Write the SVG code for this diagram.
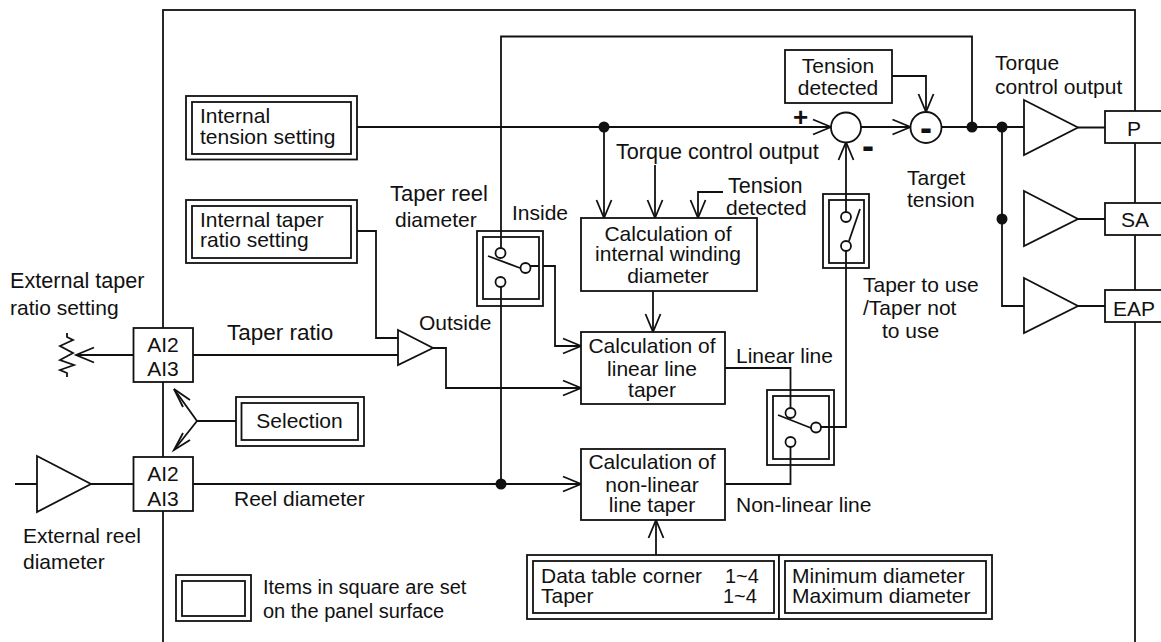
<svg xmlns="http://www.w3.org/2000/svg" width="1161" height="642" viewBox="0 0 1161 642">
<style>
.l{fill:none;stroke:#111;stroke-width:1.8}
.b{fill:#fff;stroke:#111;stroke-width:1.8}
.d{fill:#111;stroke:none}
.a{marker-end:url(#arr)}
text{font-family:"Liberation Sans",Arial,sans-serif;font-size:21px;fill:#111}
.c{text-anchor:middle}
.s{font-size:20px}
.w{font-size:21.600px}
.m{font-weight:bold;font-size:36px}
.p{font-weight:bold;font-size:26px}
</style>
<defs>
<marker id="arr" markerUnits="userSpaceOnUse" markerWidth="24" markerHeight="20" viewBox="-20 -10 24 20" refX="0" refY="0" orient="auto" overflow="visible">
<path d="M-18,-7.5 L0,0 L-18,7.5" fill="none" stroke="#111" stroke-width="1.8"/>
</marker>
</defs>
<rect width="1161" height="642" fill="#fff"/>
<rect id="frame" class="l" x="163" y="10" width="972" height="660"/>
<g id="connectors">
<path class="l" d="M501,248V36.5H972V127"/>
<path class="l" d="M501,287V484"/>
<path class="l" d="M357,127H604"/>
<path class="l a" d="M604,127H831"/>
<path class="l a" d="M604,127V218"/>
<path class="l a" d="M655,165V218"/>
<path class="l a" d="M723,192H698V218"/>
<path class="l a" d="M861,127H910.500"/>
<path class="l" d="M941.500,127H1024"/>
<path class="l a" d="M892,76H926V112"/>
<path class="l a" d="M846,212V142"/>
<path class="l" d="M846,251V427H821"/>
<path class="l" d="M725,368H790.500V408"/>
<path class="l" d="M725,484H790.500V447"/>
<path class="l a" d="M530,266H555V346H581"/>
<path class="l a" d="M653,291V332"/>
<path class="l" d="M357,231H376V338H398"/>
<path class="l" d="M193,355H398"/>
<path class="l a" d="M433,348H446V388H581"/>
<path class="l a" d="M193,484H581"/>
<path class="l a" d="M656,555V520"/>
<path class="l a" d="M133,355H76"/>
<path class="l" d="M15,484H37M91,484H133"/>
<path class="l" d="M236,421H197"/>
<path class="l" d="M174,389L197,421L174,450"/>
<path class="l" d="M190,400L174,389L183,407M190,440L174,450L183,433"/>
<path class="l" d="M1002,127V306H1024"/>
<path class="l" d="M1078,127.500H1105M1078,219H1105M1078,306H1105"/>
<circle class="d" cx="501" cy="484" r="5.500"/>
<circle class="d" cx="604" cy="127" r="5.500"/>
<circle class="d" cx="972" cy="127" r="5.500"/>
<circle class="d" cx="1002" cy="127" r="5.500"/>
<circle class="d" cx="1002" cy="219" r="5.500"/>
</g>
<g id="internal-tension"><rect class="b" x="186" y="96" width="171" height="63.500"/><rect class="b" x="192" y="102" width="159" height="52"/><text x="200" y="123">Internal</text><text x="200" y="144">tension setting</text></g>
<g id="internal-taper"><rect class="b" x="186" y="200" width="171" height="63"/><rect class="b" x="192" y="206" width="159" height="52"/><text x="200" y="227">Internal taper</text><text x="200" y="247">ratio setting</text></g>
<g id="ai-top"><rect class="b" x="133.500" y="328" width="59.500" height="54"/><text class="c" x="163" y="352">AI2</text><text class="c" x="163" y="376">AI3</text></g>
<g id="ai-bottom"><rect class="b" x="133.500" y="457" width="59.500" height="54"/><text class="c" x="163" y="481">AI2</text><text class="c" x="163" y="506">AI3</text></g>
<g id="pot"><path class="l" d="M67,333V337L73,340L60,346L73,353L60,360L74,365L60,370L67,373V377"/></g>
<g id="amp-reel"><path class="b" d="M37,456L91,484L37,512Z"/></g>
<g id="selection"><rect class="b" x="236" y="397" width="128" height="49"/><rect class="b" x="241.500" y="403" width="116.500" height="37"/><text class="c" x="299.500" y="428">Selection</text></g>
<g id="amp-taper"><path class="b" d="M398,330L433,348L398,365Z"/></g>
<g id="switch-reel"><rect class="b" x="477" y="231" width="66" height="75"/><rect class="b" x="483" y="237" width="56" height="62"/><path class="l" d="M501,231V248M501,287V306M539,266H530M488,256L520,268"/><circle class="b" cx="500.500" cy="253" r="5"/><circle class="b" cx="525.500" cy="268" r="5"/><circle class="b" cx="500.500" cy="282" r="5"/></g>
<g id="calc-internal"><rect class="b" x="581" y="218" width="176" height="73"/><text class="c" x="668" y="241">Calculation of</text><text class="c" x="668" y="261">internal winding</text><text class="c" x="668" y="283">diameter</text></g>
<g id="calc-linear"><rect class="b" x="581" y="332" width="144" height="72"/><text class="c" x="652" y="353">Calculation of</text><text class="c" x="652" y="376">linear line</text><text class="c" x="652" y="397">taper</text></g>
<g id="calc-nonlinear"><rect class="b" x="581" y="449" width="144" height="71"/><text class="c" x="652" y="469">Calculation of</text><text class="c" x="652" y="492">non-linear</text><text class="c" x="652" y="512">line taper</text></g>
<g id="switch-line"><rect class="b" x="767" y="390" width="67" height="75"/><rect class="b" x="773" y="396" width="56" height="63"/><path class="l" d="M790.500,390V408M790.500,447V465M821,427H834M778,415L811,428"/><circle class="b" cx="790.500" cy="413" r="5"/><circle class="b" cx="816" cy="427.500" r="5"/><circle class="b" cx="790.500" cy="442" r="5"/></g>
<g id="switch-taper"><rect class="b" x="823" y="194" width="46" height="74"/><rect class="b" x="829" y="200" width="35" height="63"/><path class="l" d="M846,194V212M846,251V268M860,209L849,241"/><circle class="b" cx="846" cy="217" r="5"/><circle class="b" cx="846" cy="246" r="5"/></g>
<g id="tension-detected"><rect class="b" x="785" y="50" width="107" height="53"/><text class="c" x="838" y="73">Tension</text><text class="c" x="838" y="95">detected</text></g>
<g id="sum"><circle class="b" cx="846" cy="127.500" r="15"/></g>
<g id="diff"><circle class="b" cx="926" cy="127.500" r="15.500"/><text class="m c" x="926" y="140">-</text></g>
<g id="amp-p"><path class="b" d="M1024,100L1078,127.500L1024,155Z"/></g>
<g id="amp-sa"><path class="b" d="M1024,191L1078,219L1024,246Z"/></g>
<g id="amp-eap"><path class="b" d="M1024,278L1078,306L1024,333Z"/></g>
<g id="out-p"><rect class="b" x="1105" y="111" width="70" height="32"/><text x="1127" y="136">P</text></g>
<g id="out-sa"><rect class="b" x="1105" y="203" width="70" height="32"/><text x="1121" y="227">SA</text></g>
<g id="out-eap"><rect class="b" x="1105" y="290" width="70" height="32"/><text x="1113" y="316">EAP</text></g>
<g id="data-table"><rect class="b" x="527" y="555" width="252" height="64"/><rect class="b" x="533" y="561" width="241" height="52"/><text x="541" y="583">Data table corner</text><text class="s" x="725" y="583">1~4</text><text x="541" y="603">Taper</text><text class="s" x="723" y="603">1~4</text></g>
<g id="diameter-limits"><rect class="b" x="779" y="555" width="213" height="64"/><rect class="b" x="785" y="561" width="201" height="52"/><text x="792" y="583">Minimum diameter</text><text x="792" y="603">Maximum diameter</text></g>
<g id="legend"><rect class="b" x="176" y="575" width="75" height="46"/><rect class="b" x="182" y="581" width="63" height="35"/><text class="s" x="263" y="594">Items in square are set</text><text class="s" x="263" y="618">on the panel surface</text></g>
<g id="labels">
<text x="10" y="288" class="w">External taper</text><text x="10" y="315">ratio setting</text>
<text x="227" y="340" style="font-size:22.500px">Taper ratio</text>
<text x="234" y="506">Reel diameter</text>
<text x="23" y="543">External reel</text><text x="23" y="569">diameter</text>
<text x="390" y="201" style="font-size:22px">Taper reel</text><text x="395" y="227">diameter</text>
<text x="512" y="220">Inside</text><text x="419" y="330">Outside</text>
<text x="616" y="159" class="w">Torque control output</text>
<text x="728" y="193" class="w">Tension</text><text x="726" y="215">detected</text>
<text x="736" y="363">Linear line</text><text x="736" y="512">Non-linear line</text>
<text x="907" y="185">Target</text><text x="907" y="207">tension</text>
<text x="863" y="292">Taper to use</text><text x="863" y="315">/Taper not</text><text x="882" y="338">to use</text>
<text x="995" y="70">Torque</text><text x="995" y="94">control output</text>
<text class="p" x="793" y="126">+</text>
<text class="m" x="862" y="158">-</text>
</g>
</svg>
